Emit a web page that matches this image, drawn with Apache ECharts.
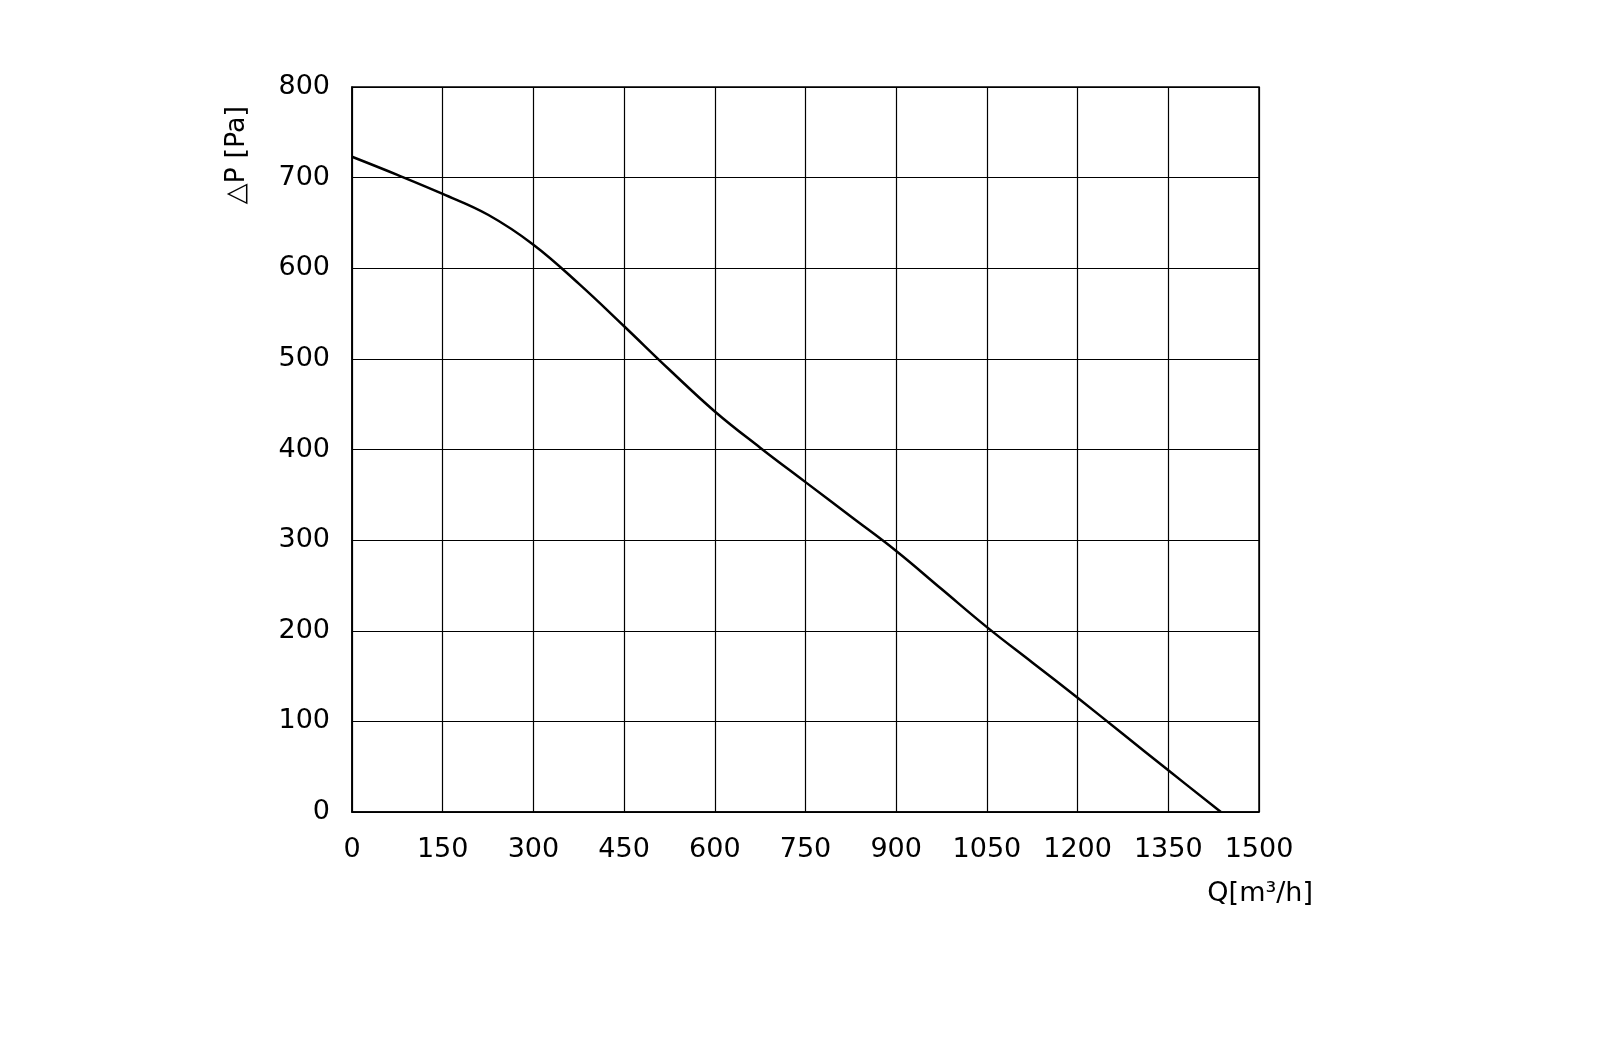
<!DOCTYPE html><html><head><meta charset="utf-8"><script src="https://cdn.jsdelivr.net/npm/echarts@6/dist/echarts.min.js"></script></head><body style="margin:0;background:#fff"><div id="c" style="width:1600px;height:1040px"></div><script>
const flow=[0,75,150,225,300,375,450,525,600,675,750,825,900,975,1050,1125,1200,1275,1350,1437];
const pressure=[723,703,682,659,626,583,536,488,442,402,364,326,288,246,204,165,126,86,46,0];
const xTicks={min:0,max:1500,interval:150};
const yTicks={min:0,max:800,interval:100};
const c=echarts.init(document.getElementById('c'));
const F='DejaVu Sans';
c.setOption({animation:false,
grid:{left:352,top:87,width:907,height:725},
xAxis:{type:'value',min:xTicks.min,max:xTicks.max,interval:xTicks.interval,
 axisLine:{lineStyle:{color:'#000',width:1.5}},axisTick:{show:false},
 splitLine:{lineStyle:{color:'#000',width:1.2}},
 axisLabel:{color:'#000',fontFamily:F,fontSize:27,margin:24,formatter:v=>String(v)}},
yAxis:{type:'value',min:yTicks.min,max:yTicks.max,interval:yTicks.interval,
 axisLine:{show:true,lineStyle:{color:'#000',width:1.5}},axisTick:{show:false},
 splitLine:{lineStyle:{color:'#000',width:1.2}},
 axisLabel:{color:'#000',fontFamily:F,fontSize:27,margin:22,formatter:v=>String(v)}},
graphic:[
 {type:'rect',shape:{x:352,y:87,width:907,height:725},style:{fill:'none',stroke:'#000',lineWidth:1.5}},
 {type:'text',x:1313,y:894,style:{text:'Q[m³/h]',font:'27px DejaVu Sans',fill:'#000',align:'right',verticalAlign:'middle'}},
 {type:'text',x:237,y:155,rotation:Math.PI/2,style:{text:'△P [Pa]',font:'27px DejaVu Sans',fill:'#000',align:'center',verticalAlign:'middle'}}
],
series:[{type:'line',data:flow.map((x,i)=>[x,pressure[i]]),smooth:0.4,showSymbol:false,lineStyle:{color:'#000',width:2.5}}]
});
</script></body></html>
